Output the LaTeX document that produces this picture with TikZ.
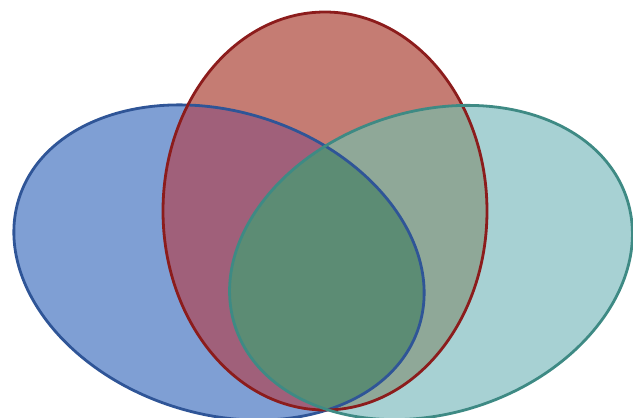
\documentclass[tikz,border=0pt]{standalone}
\definecolor{bfill}{HTML}{7F9FD4}
\definecolor{rfill}{HTML}{C57C73}
\definecolor{tfill}{HTML}{A7D1D3}
\definecolor{rbfill}{HTML}{A0607A}
\definecolor{rtfill}{HTML}{8FA898}
\definecolor{btfill}{HTML}{5E8E7E}
\definecolor{allfill}{HTML}{5C8C74}
\definecolor{bline}{HTML}{2F5597}
\definecolor{rline}{HTML}{8C1C1C}
\definecolor{tline}{HTML}{3E8A84}
\tikzset{
  bshape/.style={rotate around={-18:(219,262.5)}},
  tshape/.style={rotate around={18:(431,262.5)}},
  outline/.style={line width=2.8pt}
}
\begin{document}
\begin{tikzpicture}[x=1pt,y=-1pt]
\useasboundingbox (0,0) rectangle (633,418);
% single regions
\fill[bfill,bshape] (219,262.5) ellipse [x radius=210pt, y radius=151pt];
\fill[rfill] (325,211) ellipse [x radius=162pt, y radius=199pt];
\fill[tfill,tshape] (431,262.5) ellipse [x radius=206pt, y radius=151pt];
% red & blue
\begin{scope}
  \clip[bshape] (219,262.5) ellipse [x radius=210pt, y radius=151pt];
  \fill[rbfill] (325,211) ellipse [x radius=162pt, y radius=199pt];
\end{scope}
% red & teal
\begin{scope}
  \clip[tshape] (431,262.5) ellipse [x radius=206pt, y radius=151pt];
  \fill[rtfill] (325,211) ellipse [x radius=162pt, y radius=199pt];
\end{scope}
% blue & teal
\begin{scope}
  \clip[bshape] (219,262.5) ellipse [x radius=210pt, y radius=151pt];
  \fill[btfill,tshape] (431,262.5) ellipse [x radius=206pt, y radius=151pt];
\end{scope}
% all three
\begin{scope}
  \clip[bshape] (219,262.5) ellipse [x radius=210pt, y radius=151pt];
  \clip (325,211) ellipse [x radius=162pt, y radius=199pt];
  \fill[allfill,tshape] (431,262.5) ellipse [x radius=206pt, y radius=151pt];
\end{scope}
% outlines
\draw[outline,bline,bshape] (219,262.5) ellipse [x radius=210pt, y radius=151pt];
\draw[outline,rline] (325,211) ellipse [x radius=162pt, y radius=199pt];
\draw[outline,tline,tshape] (431,262.5) ellipse [x radius=206pt, y radius=151pt];
\end{tikzpicture}
\end{document}
